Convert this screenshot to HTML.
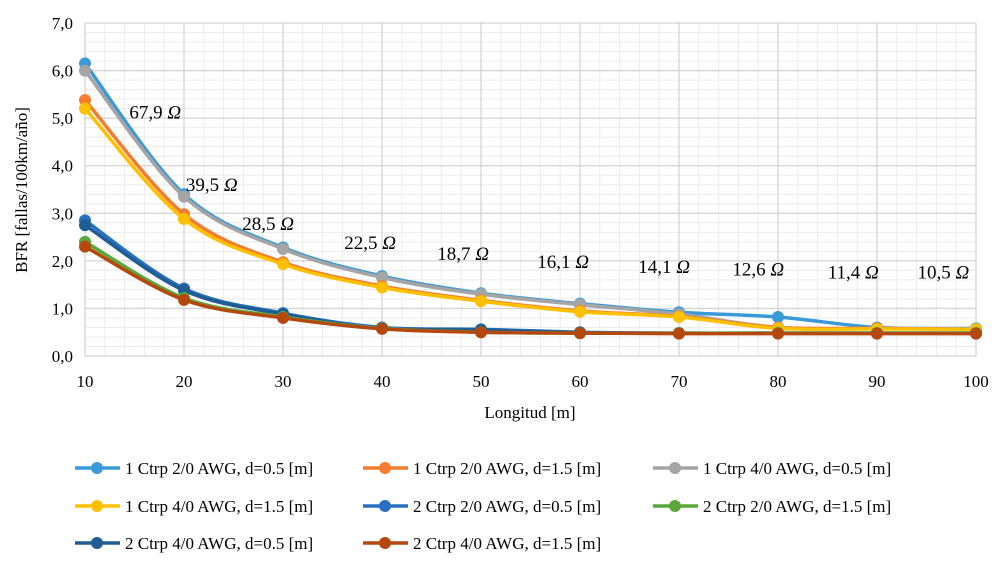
<!DOCTYPE html>
<html><head><meta charset="utf-8"><style>
body{margin:0;background:#fff}
svg text{font-family:"Liberation Serif",serif;fill:#000}
</style></head><body>
<svg id="c" width="997" height="562"></svg>
<script>
const xValues=[10,20,30,40,50,60,70,80,90,100];
const seriesNames=["1 Ctrp 2/0 AWG, d=0.5 [m]","1 Ctrp 2/0 AWG, d=1.5 [m]","1 Ctrp 4/0 AWG, d=0.5 [m]","1 Ctrp 4/0 AWG, d=1.5 [m]","2 Ctrp 2/0 AWG, d=0.5 [m]","2 Ctrp 2/0 AWG, d=1.5 [m]","2 Ctrp 4/0 AWG, d=0.5 [m]","2 Ctrp 4/0 AWG, d=1.5 [m]"];
const seriesColors=["#3a9ad9","#f47c2f","#a5a5a5","#ffc000","#2770c4","#5aa83c","#1f5d92","#b5480d"];
const s1=[6.15,3.4,2.28,1.68,1.32,1.1,0.92,0.82,0.6,0.58];
const s2=[5.38,2.98,1.97,1.47,1.17,0.95,0.83,0.6,0.58,0.56];
const s3=[6.0,3.35,2.25,1.65,1.3,1.08,0.88,0.6,0.58,0.57];
const s4=[5.2,2.88,1.93,1.44,1.15,0.93,0.82,0.58,0.57,0.56];
const s5=[2.85,1.42,0.9,0.6,0.56,0.5,0.48,0.48,0.48,0.48];
const s6=[2.4,1.22,0.82,0.58,0.5,0.48,0.48,0.48,0.48,0.48];
const s7=[2.75,1.38,0.88,0.58,0.55,0.49,0.48,0.48,0.48,0.48];
const s8=[2.3,1.18,0.8,0.57,0.5,0.48,0.47,0.47,0.47,0.47];
const series=[s1,s2,s3,s4,s5,s6,s7,s8];
const yTicks=["0,0","1,0","2,0","3,0","4,0","5,0","6,0","7,0"];
const annText=["67,9","39,5","28,5","22,5","18,7","16,1","14,1","12,6","11,4","10,5"];
const annX=[17.1,22.8,28.5,38.8,48.2,58.3,68.5,78,87.6,96.7];
const annY=[4.99,3.47,2.65,2.25,2.02,1.85,1.74,1.69,1.63,1.63];

const NS="http://www.w3.org/2000/svg";
const svg=document.getElementById('c');
const X=v=>85+(v-10)*(976-85)/90;
const Y=v=>356-v*(356-23)/7;
function el(t,a,p){const e=document.createElementNS(NS,t);for(const k in a)e.setAttribute(k,a[k]);(p||svg).appendChild(e);return e;}
for(let v=0.2;v<7;v+=0.2){const l=el('line',{x1:X(10),x2:X(100),y1:Y(v),y2:Y(v),stroke:'#ececec','stroke-width':1});

}
for(let v=12;v<100;v+=2){const l=el('line',{x1:X(v),x2:X(v),y1:Y(0),y2:Y(7),stroke:'#ececec','stroke-width':1});

}
for(let i=0;i<yTicks.length;i++){const l=el('line',{x1:X(10),x2:X(100),y1:Y(i),y2:Y(i),stroke:'#d4d4d4','stroke-width':1.3});


const t=el('text',{x:X(10)-12,y:Y(i)+6,'text-anchor':'end','font-size':17});t.textContent=yTicks[i];

}
for(const v of xValues){const l=el('line',{x1:X(v),x2:X(v),y1:Y(0),y2:Y(7),stroke:'#d4d4d4','stroke-width':1.3});


const t=el('text',{x:X(v),y:387,'text-anchor':'middle','font-size':17});t.textContent=v;

}
let t=el('text',{x:530,y:418,'text-anchor':'middle','font-size':17});t.textContent='Longitud [m]';


t=el('text',{x:0,y:0,'text-anchor':'middle','font-size':17,transform:'translate(27,190) rotate(-90)'});t.textContent='BFR [fallas/100km/año]';


function path(vals){const p=xValues.map((x,i)=>[X(x),Y(vals[i])]);let d='M'+p[0];
for(let i=0;i<p.length-1;i++){const p0=p[i-1]||p[i],p1=p[i],p2=p[i+1],p3=p[i+2]||p2;
const c1=[p1[0]+(p2[0]-p0[0])/6,p1[1]+(p2[1]-p0[1])/6],c2=[p2[0]-(p3[0]-p1[0])/6,p2[1]-(p3[1]-p1[1])/6];
d+=' C'+c1+' '+c2+' '+p2;}return d;}
const order=[0,2,1,3,4,6,5,7];
for(const si of order){const g=el('g',{});


el('path',{d:path(series[si]),fill:'none',stroke:seriesColors[si],'stroke-width':3.5},g);
series[si].forEach((v,i)=>{const c=el('circle',{cx:X(xValues[i]),cy:Y(v),r:6,fill:seriesColors[si]},g);

});}
annText.forEach((s,i)=>{const a=el('text',{x:X(annX[i]),y:Y(annY[i]),'text-anchor':'middle','font-size':19});


a.appendChild(document.createTextNode(s+' '));
const o=el('tspan',{'font-style':'italic'},a);o.textContent='Ω';});
const legX=[75,363,653],legY=[468,506,543];
seriesNames.forEach((n,i)=>{const g=el('g',{});


const x=legX[i%3],y=legY[Math.floor(i/3)];
el('line',{x1:x,x2:x+45,y1:y,y2:y,stroke:seriesColors[i],'stroke-width':3.5},g);
el('circle',{cx:x+22,cy:y,r:6,fill:seriesColors[i]},g);
const tt=el('text',{x:x+50,y:y+6,'font-size':17},g);tt.textContent=n;});
</script>
</body></html>
